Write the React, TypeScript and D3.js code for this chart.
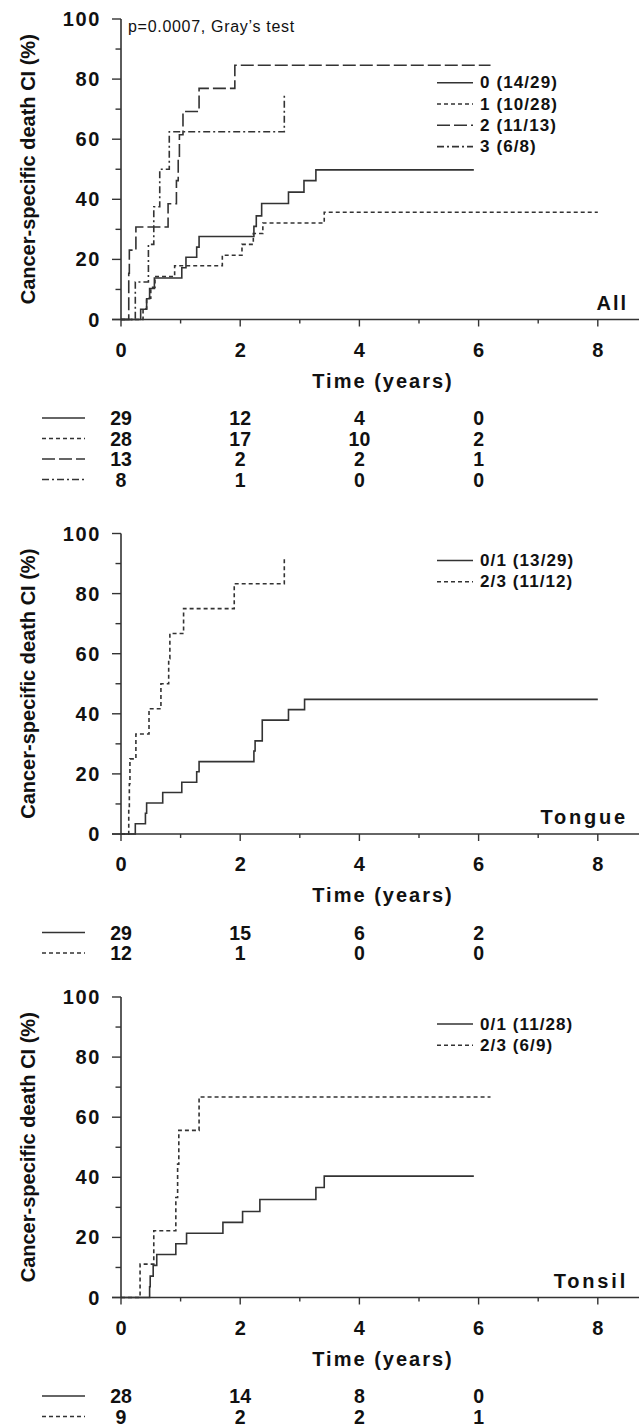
import React from 'react';
import * as d3 from 'd3';

// ---------- data ----------
type Step = [number, number]; // [time (years), cumulative incidence (%) after the jump]

// Panel "All"
const allSeriesLabels = ['0 (14/29)', '1 (10/28)', '2 (11/13)', '3 (6/8)'];
const allG0: Step[] = [[0.33, 3.4], [0.43, 6.9], [0.48, 10.3], [0.56, 13.8], [1.02, 17.2], [1.09, 20.7], [1.27, 24.1], [1.31, 27.6], [2.23, 31.0], [2.27, 34.5], [2.36, 38.6], [2.81, 42.4], [3.07, 46.2], [3.27, 49.8]];
const allG1: Step[] = [[0.37, 3.6], [0.43, 7.1], [0.5, 10.7], [0.57, 14.3], [0.9, 17.9], [1.7, 21.4], [2.03, 25.0], [2.22, 28.6], [2.38, 32.1], [3.41, 35.7]];
const allG2: Step[] = [[0.13, 15.4], [0.14, 23.1], [0.25, 30.8], [0.79, 38.5], [0.93, 46.2], [0.96, 53.8], [0.98, 61.5], [1.04, 69.2], [1.31, 76.9], [1.91, 84.6]];
const allG3: Step[] = [[0.24, 12.5], [0.46, 25.0], [0.55, 37.5], [0.65, 50.0], [0.81, 62.5], [2.74, 75.0]];
const allEnds = [5.92, 8.0, 6.2, 2.74];
const allAtRisk = [[29, 12, 4, 0], [28, 17, 10, 2], [13, 2, 2, 1], [8, 1, 0, 0]];

// Panel "Tongue"
const tongueSeriesLabels = ['0/1 (13/29)', '2/3 (11/12)'];
const tongueG01: Step[] = [[0.24, 3.4], [0.41, 6.9], [0.43, 10.3], [0.7, 13.8], [1.02, 17.2], [1.27, 20.7], [1.31, 24.1], [2.23, 27.6], [2.25, 31.0], [2.37, 37.9], [2.81, 41.4], [3.08, 44.8]];
const tongueG23: Step[] = [[0.13, 8.3], [0.14, 16.7], [0.15, 25.0], [0.25, 33.3], [0.47, 41.7], [0.67, 50.0], [0.8, 58.3], [0.82, 66.7], [1.05, 75.0], [1.9, 83.3], [2.74, 91.7]];
const tongueEnds = [8.0, 2.74];
const tongueAtRisk = [[29, 15, 6, 2], [12, 1, 0, 0]];

// Panel "Tonsil"
const tonsilSeriesLabels = ['0/1 (11/28)', '2/3 (6/9)'];
const tonsilG01: Step[] = [[0.48, 3.6], [0.49, 7.1], [0.54, 10.7], [0.6, 14.3], [0.92, 17.9], [1.1, 21.4], [1.71, 25.0], [2.04, 28.6], [2.33, 32.6], [3.27, 36.6], [3.41, 40.4]];
const tonsilG23: Step[] = [[0.32, 11.1], [0.55, 22.2], [0.92, 33.3], [0.95, 44.4], [0.97, 55.6], [1.31, 66.7]];
const tonsilEnds = [5.92, 6.2];
const tonsilAtRisk = [[28, 14, 8, 0], [9, 2, 2, 1]];

const panelNames = ['All', 'Tongue', 'Tonsil'];
const timeTicks = [0, 1, 2, 3, 4, 5, 6, 7, 8];
const timeLabelTicks = [0, 2, 4, 6, 8];
const ciTicks = [0, 10, 20, 30, 40, 50, 60, 70, 80, 90, 100];
const ciLabelTicks = [0, 20, 40, 60, 80, 100];
const riskTimes = [0, 2, 4, 6];
const pValueText = 'p=0.0007, Gray\u2019s test';
const yAxisTitle = 'Cancer-specific death CI (%)';
const xAxisTitle = 'Time (years)';

// ---------- styling / layout ----------
const W = 639;
const H = 1427;
const X0 = 121;
const PX_PER_YEAR = 59.6;
const PANEL_H = 300.5;
const panelBottoms = [319.5, 834, 1297.5];
const INK = '#333';
const TXT = '#111';
const FONT = '"Liberation Sans", Arial, Helvetica, sans-serif';
const dashes = [null, '4,3', '13,4', '7,3,2,3'];

const x = d3.scaleLinear().domain([0, 8]).range([X0, X0 + 8 * PX_PER_YEAR]);

interface PanelDef {
  name: string;
  series: Step[][];
  ends: number[];
  labels: string[];
  dashIdx: number[];
  atRisk: number[][];
  legendTopOffset: number;
  pValue?: string;
}

const panels: PanelDef[] = [
  { name: panelNames[0], series: [allG0, allG1, allG2, allG3], ends: allEnds, labels: allSeriesLabels, dashIdx: [0, 1, 2, 3], atRisk: allAtRisk, legendTopOffset: 63.7, pValue: pValueText },
  { name: panelNames[1], series: [tongueG01, tongueG23], ends: tongueEnds, labels: tongueSeriesLabels, dashIdx: [0, 1], atRisk: tongueAtRisk, legendTopOffset: 27 },
  { name: panelNames[2], series: [tonsilG01, tonsilG23], ends: tonsilEnds, labels: tonsilSeriesLabels, dashIdx: [0, 1], atRisk: tonsilAtRisk, legendTopOffset: 27 },
];

function Panel({ def, bottom }: { def: PanelDef; bottom: number }) {
  const top = bottom - PANEL_H;
  const y = d3.scaleLinear().domain([0, 100]).range([bottom, top]);
  const line = d3
    .line<Step>()
    .x((d) => x(d[0]))
    .y((d) => y(d[1]))
    .curve(d3.curveStepAfter);
  const midY = (top + bottom) / 2;

  return (
    <g>
      {/* curves */}
      {def.series.map((s, i) => {
        const last = s[s.length - 1][1];
        const pts: Step[] = [[0, 0], ...s, [def.ends[i], last]];
        const da = dashes[def.dashIdx[i]];
        return (
          <path key={i} d={line(pts) || ''} fill="none" stroke={INK} strokeWidth={1.6}
            strokeDasharray={da || undefined} />
        );
      })}

      {/* y axis */}
      <line x1={X0} x2={X0} y1={top} y2={bottom} stroke={INK} strokeWidth={1.6} />
      {ciTicks.map((t) => {
        const major = ciLabelTicks.includes(t);
        return <line key={'yt' + t} x1={X0 - (major ? 9 : 5.5)} x2={X0} y1={y(t)} y2={y(t)} stroke={INK} strokeWidth={1.4} />;
      })}
      {ciLabelTicks.map((t) => (
        <text key={'yl' + t} x={101} y={y(t)} textAnchor="end" dominantBaseline="central"
          fontFamily={FONT} fontWeight="bold" fontSize={20} letterSpacing={1.6} fill={TXT}>{t}</text>
      ))}
      <text transform={`translate(28,${midY}) rotate(-90)`} textAnchor="middle" dominantBaseline="central"
        fontFamily={FONT} fontWeight="bold" fontSize={20} fill={TXT}>{yAxisTitle}</text>

      {/* x axis */}
      <line x1={X0 - 9} x2={W} y1={bottom} y2={bottom} stroke={INK} strokeWidth={1.6} />
      {timeTicks.map((t) => {
        const major = timeLabelTicks.includes(t);
        return <line key={'xt' + t} x1={x(t)} x2={x(t)} y1={bottom} y2={bottom + (major ? 7 : 4)} stroke={INK} strokeWidth={1.4} />;
      })}
      {timeLabelTicks.map((t) => (
        <text key={'xl' + t} x={x(t)} y={bottom + 30} textAnchor="middle" dominantBaseline="central"
          fontFamily={FONT} fontWeight="bold" fontSize={20} fill={TXT}>{t}</text>
      ))}
      <text x={383} y={bottom + 61} textAnchor="middle" dominantBaseline="central"
        fontFamily={FONT} fontWeight="bold" fontSize={20} letterSpacing={2} fill={TXT}>{xAxisTitle}</text>

      {/* panel name */}
      <text x={628} y={bottom - 10} textAnchor="end" fontFamily={FONT} fontWeight="bold" fontSize={20}
        letterSpacing={def.name === 'All' ? 2 : 2.8} fill={TXT}>{def.name}</text>

      {/* p value */}
      {def.pValue && (
        <text x={128} y={top + 7} dominantBaseline="central" fontFamily={FONT} fontSize={16}
          letterSpacing={0.7} fill={TXT}>{def.pValue}</text>
      )}

      {/* legend */}
      {def.labels.map((lab, i) => {
        const ly = top + def.legendTopOffset + i * 21.3;
        const da = dashes[def.dashIdx[i]];
        return (
          <g key={'lg' + i}>
            <line x1={437} x2={473} y1={ly} y2={ly} stroke={INK} strokeWidth={1.6} strokeDasharray={da || undefined} />
            <text x={480} y={ly} dominantBaseline="central" fontFamily={FONT} fontWeight="bold" fontSize={17}
              letterSpacing={1.1} fill={TXT}>{lab}</text>
          </g>
        );
      })}

      {/* number at risk table */}
      {def.atRisk.map((row, i) => {
        const ry = bottom + 98.5 + i * 20.5;
        const da = dashes[def.dashIdx[i]];
        return (
          <g key={'rk' + i}>
            <line x1={42} x2={85} y1={ry} y2={ry} stroke={INK} strokeWidth={1.6} strokeDasharray={da || undefined} />
            {row.map((n, j) => (
              <text key={j} x={x(riskTimes[j])} y={ry} textAnchor="middle" dominantBaseline="central"
                fontFamily={FONT} fontWeight="bold" fontSize={19.5} fill={TXT}>{n}</text>
            ))}
          </g>
        );
      })}
    </g>
  );
}

export default function App() {
  return (
    <svg width={W} height={H} viewBox={`0 0 ${W} ${H}`}
      style={{ position: 'absolute', left: 0, top: 0, background: '#fff' }}>
      <rect x={0} y={0} width={W} height={H} fill="#fff" />
      {panels.map((p, i) => (
        <Panel key={p.name} def={p} bottom={panelBottoms[i]} />
      ))}
    </svg>
  );
}
